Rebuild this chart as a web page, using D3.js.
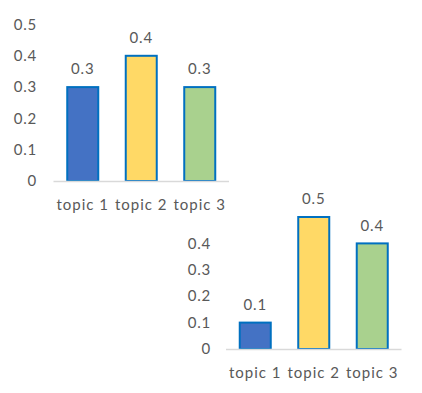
<!DOCTYPE html>
<html><head><meta charset="utf-8">
<script src="https://cdn.jsdelivr.net/npm/d3@7"></script>
<style>
body{margin:0;background:#fff;}
text{font-family:Lato,"Open Sans",sans-serif;fill:#595959;}
</style></head>
<body><svg id="c" width="422" height="393"></svg>
<script>
const categories = ["topic 1","topic 2","topic 3"];
const values1 = [0.3, 0.4, 0.3];
const values2 = [0.1, 0.5, 0.4];
const ticks1 = [0, 0.1, 0.2, 0.3, 0.4, 0.5];
const ticks2 = [0, 0.1, 0.2, 0.3, 0.4];
const colors = ["#4472C4", "#FFD966", "#A9D18E"];

const svg = d3.select("#c");

function drawChart(cfg) {
  const g = svg.append("g");
  const x = d3.scaleBand().domain(categories).range(cfg.xr).paddingInner(0.47).paddingOuter(0.235);
  const y = d3.scaleLinear().domain([0, 0.5]).range(cfg.yr);
  // y tick labels
  g.selectAll(".yt").data(cfg.ticks).enter().append("text")
    .attr("x", cfg.labelX).attr("y", d => y(d)).attr("dy", "0.35em")
    .attr("text-anchor", "end").style("font-size", "15px").style("letter-spacing", "0.8px")
    .text(d => d3.format("")(d));
  // bars
  g.selectAll(".bar").data(cfg.values).enter().append("rect")
    .attr("x", (d, i) => x(categories[i]))
    .attr("y", d => y(d))
    .attr("width", x.bandwidth())
    .attr("height", d => y(0) - y(d))
    .attr("fill", (d, i) => colors[i])
    .attr("stroke", "#0070C0").attr("stroke-width", 2);
  // axis line
  g.append("line").attr("x1", cfg.xr[0]).attr("x2", cfg.xr[1])
    .attr("y1", y(0) + 0.5).attr("y2", y(0) + 0.5)
    .attr("stroke", "#D9D9D9").attr("stroke-width", 1.5);
  // value labels
  g.selectAll(".vl").data(cfg.values).enter().append("text")
    .attr("x", (d, i) => x(categories[i]) + x.bandwidth() / 2)
    .attr("y", d => y(d) - 18).attr("dy", "0.35em")
    .attr("text-anchor", "middle").style("font-size", "15px").style("letter-spacing", "0.8px")
    .text(d => d);
  // category labels
  g.selectAll(".cl").data(categories).enter().append("text")
    .attr("x", d => x(d) + x.bandwidth() / 2)
    .attr("y", y(0) + 24).attr("dy", "0.35em")
    .attr("text-anchor", "middle").style("font-size", "15px").style("letter-spacing", "1px")
    .text(d => d);
}

drawChart({xr: [53.5, 229], yr: [181, 24.5], ticks: ticks1, values: values1, labelX: 37});
drawChart({xr: [226, 401.5], yr: [349, 217], ticks: ticks2, values: values2, labelX: 211});
</script></body></html>
